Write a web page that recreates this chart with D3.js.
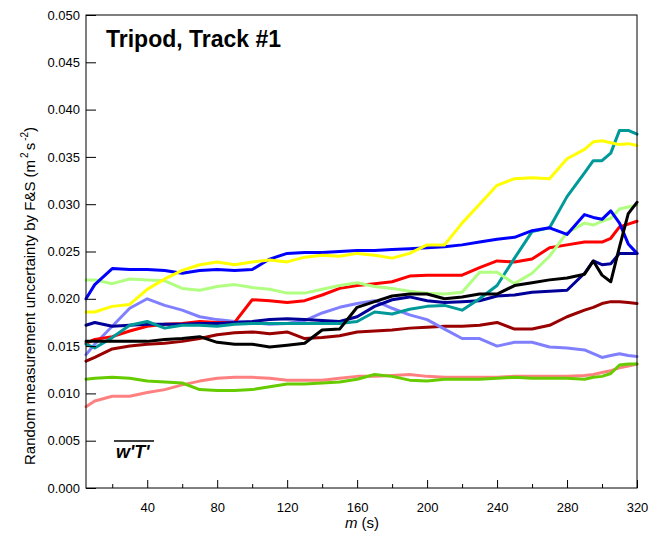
<html>
<head>
<meta charset="utf-8">
<title>Tripod, Track #1</title>
<script src="https://d3js.org/d3.v7.min.js"></script>
<style>
  body { margin: 0; background: #fff; }
  svg { font-family: "Liberation Sans", Arial, sans-serif; }
  .tick text { font-size: 13px; fill: #000; }
  .tick line { stroke: #000; }
</style>
</head>
<body>
<script>
// averaging period m (s)
const mValues = [5, 10, 20, 30, 40, 50, 60, 70, 80, 90, 100, 110, 120, 130, 140, 150, 160, 170, 180, 190,
  200, 210, 220, 230, 240, 250, 260, 270, 280, 290, 295, 300, 305, 310, 315, 320];

const blueVals = [0.0200, 0.0215, 0.0232, 0.0231, 0.0231, 0.0230, 0.0227, 0.0230, 0.0231, 0.0230, 0.0231, 0.0242,
  0.0248, 0.0249, 0.0249, 0.0250, 0.0251, 0.0251, 0.0252, 0.0253, 0.0254, 0.0255, 0.0257, 0.0260, 0.0263, 0.0265,
  0.0272, 0.0275, 0.0268, 0.0289, 0.0286, 0.0284, 0.0293, 0.0280, 0.0258, 0.0248];
const yellowVals = [0.0186, 0.0186, 0.0192, 0.0194, 0.0210, 0.0221, 0.0230, 0.0236, 0.0239, 0.0236, 0.0239, 0.0241,
  0.0239, 0.0244, 0.0246, 0.0245, 0.0248, 0.0246, 0.0243, 0.0248, 0.0257, 0.0257, 0.0280, 0.0300, 0.0320, 0.0327,
  0.0328, 0.0327, 0.0348, 0.0358, 0.0366, 0.0367, 0.0365, 0.0363, 0.0364, 0.0362];
const lightGreenVals = [0.0220, 0.0220, 0.0216, 0.0221, 0.0220, 0.0219, 0.0211, 0.0209, 0.0213, 0.0215, 0.0212, 0.0210,
  0.0206, 0.0206, 0.0210, 0.0214, 0.0217, 0.0213, 0.0211, 0.0208, 0.0206, 0.0205, 0.0207, 0.0228, 0.0228, 0.0216,
  0.0227, 0.0245, 0.0270, 0.0280, 0.0278, 0.0282, 0.0285, 0.0295, 0.0297, 0.0299];
const redVals = [0.0153, 0.0157, 0.0160, 0.0166, 0.0171, 0.0173, 0.0174, 0.0176, 0.0175, 0.0175, 0.0199, 0.0198,
  0.0196, 0.0198, 0.0204, 0.0211, 0.0214, 0.0216, 0.0218, 0.0224, 0.0225, 0.0225, 0.0225, 0.0233, 0.0240, 0.0239,
  0.0242, 0.0254, 0.0257, 0.0260, 0.0260, 0.0260, 0.0264, 0.0276, 0.0279, 0.0282];
const lightBlueVals = [0.0141, 0.0152, 0.0171, 0.0190, 0.0200, 0.0193, 0.0188, 0.0181, 0.0178, 0.0176, 0.0175, 0.0173,
  0.0174, 0.0177, 0.0185, 0.0191, 0.0195, 0.0198, 0.0190, 0.0183, 0.0178, 0.0168, 0.0158, 0.0158, 0.0150, 0.0154,
  0.0154, 0.0149, 0.0148, 0.0146, 0.0142, 0.0138, 0.0140, 0.0142, 0.0140, 0.0139];
const navyVals = [0.0172, 0.0175, 0.0171, 0.0172, 0.0173, 0.0173, 0.0173, 0.0174, 0.0174, 0.0175, 0.0176, 0.0178,
  0.0179, 0.0178, 0.0177, 0.0176, 0.0181, 0.0192, 0.0199, 0.0202, 0.0198, 0.0196, 0.0197, 0.0198, 0.0203, 0.0204,
  0.0207, 0.0208, 0.0209, 0.0227, 0.0240, 0.0236, 0.0237, 0.0248, 0.0248, 0.0248];
const tealVals = [0.0152, 0.0148, 0.0159, 0.0172, 0.0176, 0.0169, 0.0172, 0.0172, 0.0171, 0.0173, 0.0174, 0.0174,
  0.0174, 0.0174, 0.0174, 0.0174, 0.0176, 0.0186, 0.0184, 0.0189, 0.0192, 0.0193, 0.0188, 0.0200, 0.0214, 0.0243,
  0.0271, 0.0275, 0.0308, 0.0333, 0.0346, 0.0346, 0.0354, 0.0378, 0.0378, 0.0374];
const blackVals = [0.0155, 0.0155, 0.0155, 0.0155, 0.0155, 0.0157, 0.0158, 0.0160, 0.0154, 0.0152, 0.0152, 0.0149,
  0.0151, 0.0153, 0.0167, 0.0168, 0.0191, 0.0197, 0.0203, 0.0205, 0.0205, 0.0200, 0.0202, 0.0205, 0.0205, 0.0214,
  0.0217, 0.0220, 0.0222, 0.0226, 0.0240, 0.0225, 0.0218, 0.0255, 0.0290, 0.0302];
const darkRedVals = [0.0134, 0.0138, 0.0147, 0.0150, 0.0152, 0.0153, 0.0155, 0.0158, 0.0162, 0.0164, 0.0165, 0.0163,
  0.0165, 0.0158, 0.0159, 0.0161, 0.0165, 0.0166, 0.0167, 0.0169, 0.0170, 0.0171, 0.0171, 0.0172, 0.0175, 0.0168,
  0.0168, 0.0172, 0.0181, 0.0188, 0.0191, 0.0195, 0.0197, 0.0197, 0.0196, 0.0195];
const pinkVals = [0.0086, 0.0092, 0.0097, 0.0097, 0.0101, 0.0104, 0.0109, 0.0113, 0.0116, 0.0117, 0.0117, 0.0116,
  0.0114, 0.0114, 0.0114, 0.0116, 0.0118, 0.0118, 0.0119, 0.0120, 0.0118, 0.0117, 0.0117, 0.0117, 0.0117, 0.0118,
  0.0118, 0.0118, 0.0118, 0.0119, 0.0120, 0.0122, 0.0124, 0.0127, 0.0129, 0.0131];
const greenVals = [0.0115, 0.0116, 0.0117, 0.0116, 0.0113, 0.0112, 0.0111, 0.0104, 0.0103, 0.0103, 0.0104, 0.0107,
  0.0110, 0.0110, 0.0111, 0.0112, 0.0115, 0.0120, 0.0118, 0.0114, 0.0113, 0.0115, 0.0115, 0.0115, 0.0116, 0.0117,
  0.0116, 0.0116, 0.0116, 0.0115, 0.0117, 0.0118, 0.0121, 0.0130, 0.0131, 0.0131];

const yTicks = [0, 0.005, 0.01, 0.015, 0.02, 0.025, 0.03, 0.035, 0.04, 0.045, 0.05];
const xTicks = [40, 80, 120, 160, 200, 240, 280, 320];
const xMinorTicks = [20, 60, 100, 140, 180, 220, 260, 300];

// drawing order, back to front
const series = [
  { color: "#ff8080", vals: pinkVals },
  { color: "#66cc00", vals: greenVals },
  { color: "#990000", vals: darkRedVals },
  { color: "#8080ff", vals: lightBlueVals },
  { color: "#ff0000", vals: redVals },
  { color: "#000099", vals: navyVals },
  { color: "#009999", vals: tealVals },
  { color: "#b0ff80", vals: lightGreenVals },
  { color: "#0000ff", vals: blueVals },
  { color: "#ffff00", vals: yellowVals },
  { color: "#000000", vals: blackVals }
];

const W = 667, H = 536;
const plot = { left: 86, right: 637, top: 15, bottom: 488 };

const svg = d3.select("body").append("svg").attr("width", W).attr("height", H);
svg.append("rect").attr("width", W).attr("height", H).attr("fill", "#fff");

const x = d3.scaleLinear().domain([5, 320]).range([plot.left, plot.right]);
const y = d3.scaleLinear().domain([0, 0.05]).range([plot.bottom, plot.top]);

// lines
const line = d3.line().x((d, i) => x(mValues[i])).y(d => y(d));
svg.append("g").selectAll("path").data(series).join("path")
  .attr("d", s => line(s.vals))
  .attr("fill", "none")
  .attr("stroke", s => s.color)
  .attr("stroke-width", 3)
  .attr("stroke-linejoin", "round")
  .attr("stroke-linecap", "round");

// frame
svg.append("rect")
  .attr("x", plot.left).attr("y", plot.top)
  .attr("width", plot.right - plot.left).attr("height", plot.bottom - plot.top)
  .attr("fill", "none").attr("stroke", "#000").attr("stroke-width", 1);

// y axis
const yAxis = svg.append("g").attr("transform", `translate(${plot.left},0)`)
  .call(d3.axisLeft(y).tickValues(yTicks).tickFormat(d3.format(".3f")).tickSizeInner(-10).tickSizeOuter(0).tickPadding(6));
yAxis.select(".domain").remove();

// x axis
const xAxis = svg.append("g").attr("transform", `translate(0,${plot.bottom})`)
  .call(d3.axisBottom(x).tickValues(xTicks).tickSizeInner(-8).tickSizeOuter(0).tickPadding(15));
xAxis.select(".domain").remove();
const xMinor = svg.append("g").attr("transform", `translate(0,${plot.bottom})`)
  .call(d3.axisBottom(x).tickValues(xMinorTicks).tickFormat("").tickSizeInner(-4).tickSizeOuter(0));
xMinor.select(".domain").remove();

// title
svg.append("text").attr("x", 106).attr("y", 47)
  .attr("font-size", 23).attr("font-weight", "bold").text("Tripod, Track #1");

// x label
const xl = svg.append("text").attr("x", 362).attr("y", 528).attr("text-anchor", "middle").attr("font-size", 15);
xl.append("tspan").attr("font-style", "italic").text("m");
xl.append("tspan").text(" (s)");

// y label
const yl = svg.append("text")
  .attr("transform", "translate(35,296) rotate(-90)")
  .attr("text-anchor", "middle").attr("font-size", 15);
yl.append("tspan").text("Random measurement uncertainty by F&S (m");
yl.append("tspan").attr("font-size", 10).attr("dy", -7).attr("dx", 2).text("2");
yl.append("tspan").attr("dy", 7).attr("dx", 2).text("s");
yl.append("tspan").attr("font-size", 10).attr("dy", -7).attr("dx", 2).text("-2");
yl.append("tspan").attr("dy", 7).text(")");

// w'T' annotation
svg.append("text").attr("x", 116).attr("y", 458)
  .attr("font-size", 18).attr("font-weight", "bold").attr("font-style", "italic").text("w'T'");
svg.append("line").attr("x1", 114).attr("x2", 154).attr("y1", 441).attr("y2", 441)
  .attr("stroke", "#000").attr("stroke-width", 1.5);
</script>
</body>
</html>
